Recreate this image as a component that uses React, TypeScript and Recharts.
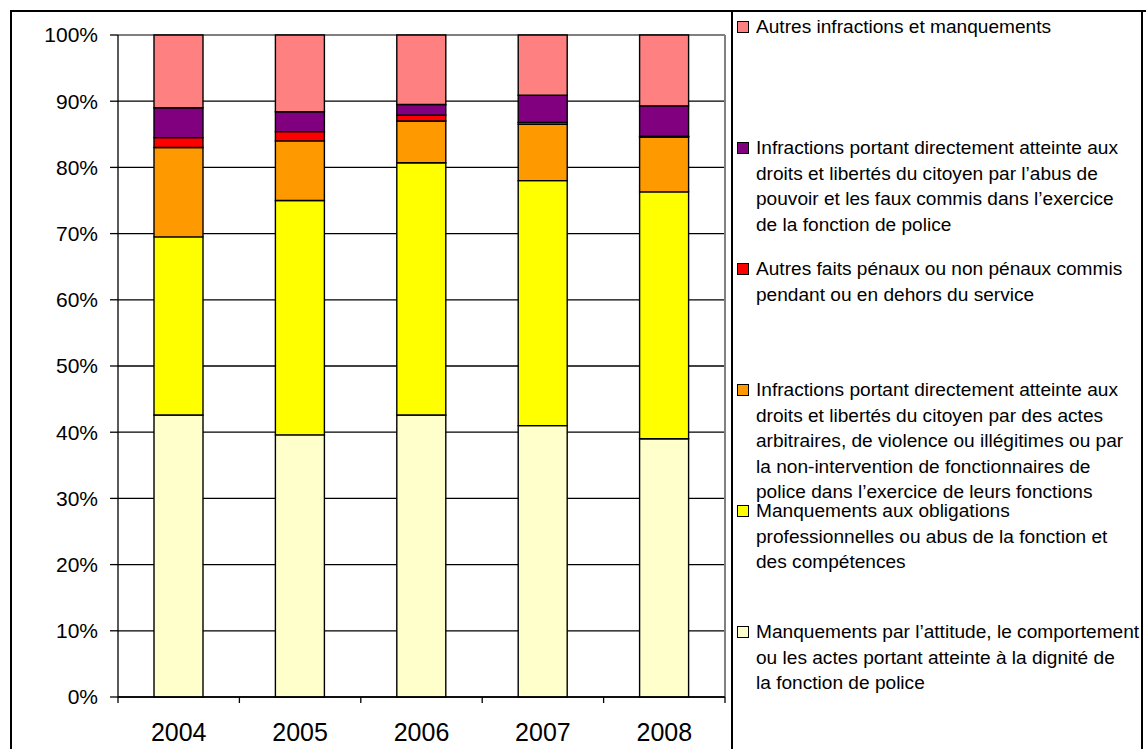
import React from 'react';
import { BarChart, Bar, XAxis, YAxis, CartesianGrid } from 'recharts';

// Share of complaint types per year (percent of total)
const years = ['2004', '2005', '2006', '2007', '2008'];
const attitude = [42.6, 39.6, 42.6, 41.0, 39.0];
const obligations = [26.9, 35.4, 38.1, 37.0, 37.3];
const actesArbitraires = [13.5, 9.0, 6.3, 8.5, 8.3];
const autresFaits = [1.5, 1.4, 0.9, 0.3, 0.1];
const abusPouvoir = [4.5, 3.0, 1.6, 4.1, 4.6];
const autresInfractions = [11.0, 11.6, 10.5, 9.1, 10.7];

const yTicks = [0, 0.1, 0.2, 0.3, 0.4, 0.5, 0.6, 0.7, 0.8, 0.9, 1];

// bottom of the stack first
const series = [
  {
    key: 'attitude',
    values: attitude,
    color: '#FFFFCC',
    lines: [
      'Manquements par l’attitude, le comportement',
      'ou les actes portant atteinte à la dignité de',
      'la fonction de police',
    ],
  },
  {
    key: 'obligations',
    values: obligations,
    color: '#FFFF00',
    lines: [
      'Manquements aux obligations',
      'professionnelles ou abus de la fonction et',
      'des compétences',
    ],
  },
  {
    key: 'actesArbitraires',
    values: actesArbitraires,
    color: '#FF9900',
    lines: [
      'Infractions portant directement atteinte aux',
      'droits et libertés du citoyen par des actes',
      'arbitraires, de violence ou illégitimes ou par',
      'la non-intervention de fonctionnaires de',
      'police dans l’exercice de leurs fonctions',
    ],
  },
  {
    key: 'autresFaits',
    values: autresFaits,
    color: '#FF0000',
    lines: [
      'Autres faits pénaux ou non pénaux commis',
      'pendant ou en dehors du service',
    ],
  },
  {
    key: 'abusPouvoir',
    values: abusPouvoir,
    color: '#800080',
    lines: [
      'Infractions portant directement atteinte aux',
      'droits et libertés du citoyen par l’abus de',
      'pouvoir et les faux commis dans l’exercice',
      'de la fonction de police',
    ],
  },
  {
    key: 'autresInfractions',
    values: autresInfractions,
    color: '#FF8080',
    lines: ['Autres infractions et manquements'],
  },
];

const data = years.map((year, i) => {
  const row: Record<string, string | number> = { year };
  series.forEach((s) => {
    row[s.key] = s.values[i];
  });
  return row;
});

const W = 1146;
const H = 749;
const PLOT_LEFT = 118;
const PLOT_RIGHT = 725;
const PLOT_TOP = 35;
const X_AXIS_H = 52;
const PLOT_BOTTOM = H - X_AXIS_H;
const FONT = '"Liberation Sans", Arial, sans-serif';

// year label under each bar, with tick marks on the category boundaries
const YearTick = (props: any) => {
  const { x, payload, index, visibleTicksCount } = props;
  const half = payload?.offset ?? (PLOT_RIGHT - PLOT_LEFT) / years.length / 2;
  return (
    <g>
      <line x1={x - half} x2={x - half} y1={PLOT_BOTTOM} y2={PLOT_BOTTOM + 6} stroke="#000" strokeWidth={1.3} />
      {index === visibleTicksCount - 1 && (
        <line x1={x + half} x2={x + half} y1={PLOT_BOTTOM} y2={PLOT_BOTTOM + 6} stroke="#000" strokeWidth={1.3} />
      )}
      <text x={x} y={PLOT_BOTTOM + 44} textAnchor="middle" fontSize={25} fill="#000" fontFamily={FONT}>
        {payload.value}
      </text>
    </g>
  );
};

const LINE_H = 25.5;
const ITEM_STEP = 121;
const FIRST_LINE_CENTER = 27;

const Legend = () => (
  <>
    <div
      style={{
        position: 'absolute',
        left: 731,
        top: 10,
        width: 412,
        height: 800,
        border: '2px solid #000',
        boxSizing: 'border-box',
      }}
    />
    {[...series].reverse().map((s, i) => {
      const center = FIRST_LINE_CENTER + ITEM_STEP * i;
      return (
        <React.Fragment key={s.key}>
          <div
            style={{
              position: 'absolute',
              left: 737,
              top: center - 6,
              width: 12,
              height: 12,
              boxSizing: 'border-box',
              border: '1.5px solid #000',
              background: s.color,
            }}
          />
          <div
            style={{
              position: 'absolute',
              left: 756,
              top: center - LINE_H / 2,
              fontFamily: FONT,
              fontSize: 19.1,
              lineHeight: `${LINE_H}px`,
              whiteSpace: 'nowrap',
              color: '#000',
            }}
          >
            {s.lines.map((l) => (
              <div key={l}>{l}</div>
            ))}
          </div>
        </React.Fragment>
      );
    })}
  </>
);

export default function App() {
  return (
    <div
      style={{
        position: 'absolute',
        left: 0,
        top: 0,
        width: W,
        height: H,
        overflow: 'hidden',
        background: '#fff',
      }}
    >
      <div
        style={{
          position: 'absolute',
          left: 10,
          top: 10,
          width: 1300,
          height: 900,
          border: '2px solid #000',
        }}
      />
      <div style={{ position: 'absolute', left: 0, top: 0 }}>
        <BarChart
          width={W}
          height={H}
          data={data}
          stackOffset="expand"
          margin={{ top: PLOT_TOP, right: W - PLOT_RIGHT, bottom: 0, left: PLOT_LEFT - 100 }}
        >
          <CartesianGrid stroke="#000" strokeWidth={1.3} vertical={false} />
          <CartesianGrid
            stroke="#808080"
            strokeWidth={2}
            horizontalCoordinatesGenerator={({ offset }: any) => [offset.top]}
            verticalCoordinatesGenerator={({ offset }: any) => [offset.left + offset.width]}
          />
          <XAxis
            dataKey="year"
            height={X_AXIS_H}
            axisLine={{ stroke: '#000', strokeWidth: 1.3 }}
            tickLine={false}
            tickSize={6}
            tickMargin={21}
            tick={<YearTick />}
            interval={0}
          />
          <YAxis
            width={100}
            domain={[0, 1]}
            ticks={yTicks}
            tickFormatter={(v: number) => `${Math.round(v * 100)}%`}
            axisLine={{ stroke: '#000', strokeWidth: 1.3 }}
            tickLine={{ stroke: '#000', strokeWidth: 1.3 }}
            tickSize={8}
            tickMargin={12}
            tick={{ fill: '#000', fontSize: 21, fontFamily: FONT }}
          />
          {series.map((s) => (
            <Bar
              key={s.key}
              dataKey={s.key}
              stackId="a"
              fill={s.color}
              stroke="#000"
              strokeWidth={1.4}
              barSize={49}
              isAnimationActive={false}
            />
          ))}
        </BarChart>
      </div>
      <Legend />
    </div>
  );
}
